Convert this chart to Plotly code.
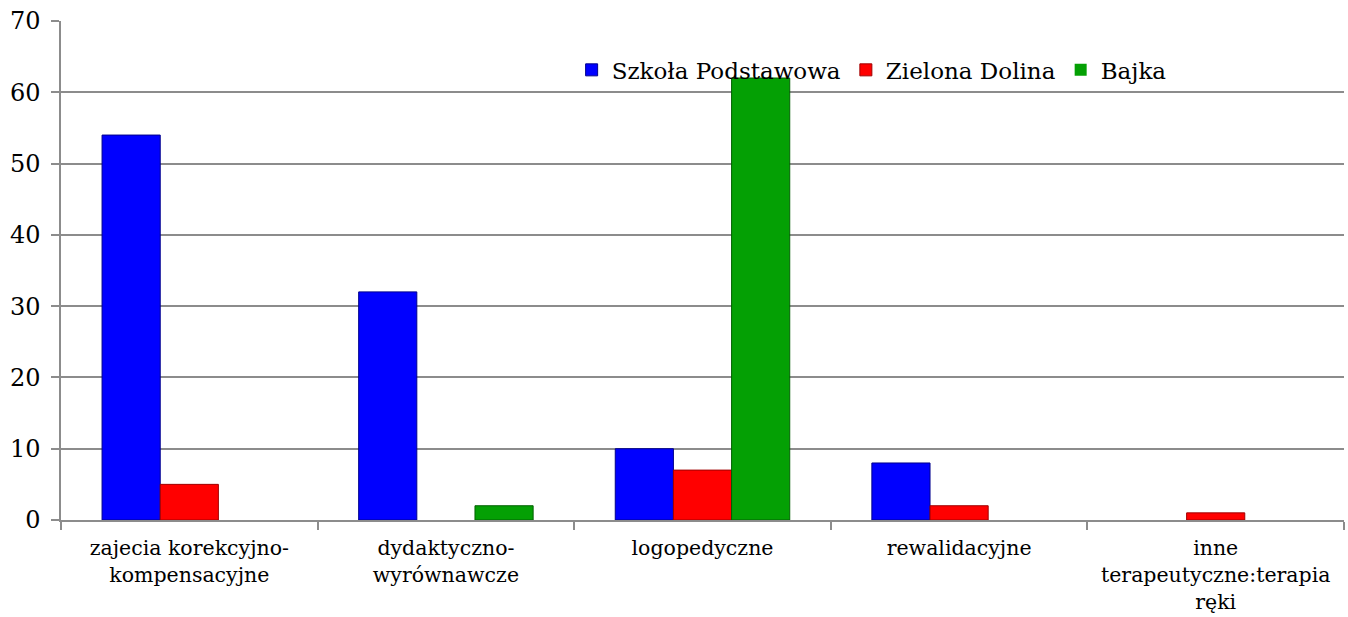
import plotly.graph_objects as go

categories = [
    "zajecia korekcyjno-<br>kompensacyjne",
    "dydaktyczno-<br>wyrównawcze",
    "logopedyczne",
    "rewalidacyjne",
    "inne<br>terapeutyczne:terapia<br>ręki",
]
szkola = [54, 32, 10, 8, 0]
zielona = [5, 0, 7, 2, 1]
bajka = [0, 2, 62, 0, 0]

series = [
    ("Szkoła Podstawowa", szkola, "#0000FF", "#00008C"),
    ("Zielona Dolina", zielona, "#FF0000", "#A00000"),
    ("Bajka", bajka, "#04A004", "#026002"),
]

fig = go.Figure()
for name, vals, col, edge in series:
    fig.add_trace(go.Bar(
        name=name, x=categories, y=vals,
        marker=dict(color=col,
                    line=dict(color=edge, width=[1 if v else 0 for v in vals])),
    ))

font = "DejaVu Serif"
fig.update_layout(
    width=1348, height=617,
    margin=dict(l=61, r=4, t=21, b=97),
    paper_bgcolor="white", plot_bgcolor="white",
    barmode="group", bargap=0.32, bargroupgap=0,
    font=dict(family=font, size=21, color="black"),
    legend=dict(orientation="h", x=0.398, xanchor="left", y=0.902, yanchor="middle",
                font=dict(family=font, size=23), itemwidth=30, traceorder="normal",
                bgcolor="rgba(0,0,0,0)"),
    xaxis=dict(
        showline=True, linecolor="#8c8c8c", linewidth=1.5,
        ticks="outside", ticklen=8, tickcolor="#8c8c8c", tickwidth=1.5,
        tickson="boundaries", tickfont=dict(family=font, size=20.5),
        showgrid=False, automargin=False, ticklabelstandoff=9,
    ),
    yaxis=dict(
        range=[0, 70], dtick=10, showgrid=True, gridcolor="#8c8c8c", gridwidth=1.5,
        showline=True, linecolor="#8c8c8c", linewidth=1.5,
        ticks="outside", ticklen=8, tickcolor="#8c8c8c", tickwidth=1.5,
        tickfont=dict(family=font, size=24), zeroline=False, automargin=False,
        ticklabelstandoff=6,
    ),
)
fig.write_html(
    "out.html",
    config={"displayModeBar": False},
    post_script="document.body.style.margin='0';",
)
